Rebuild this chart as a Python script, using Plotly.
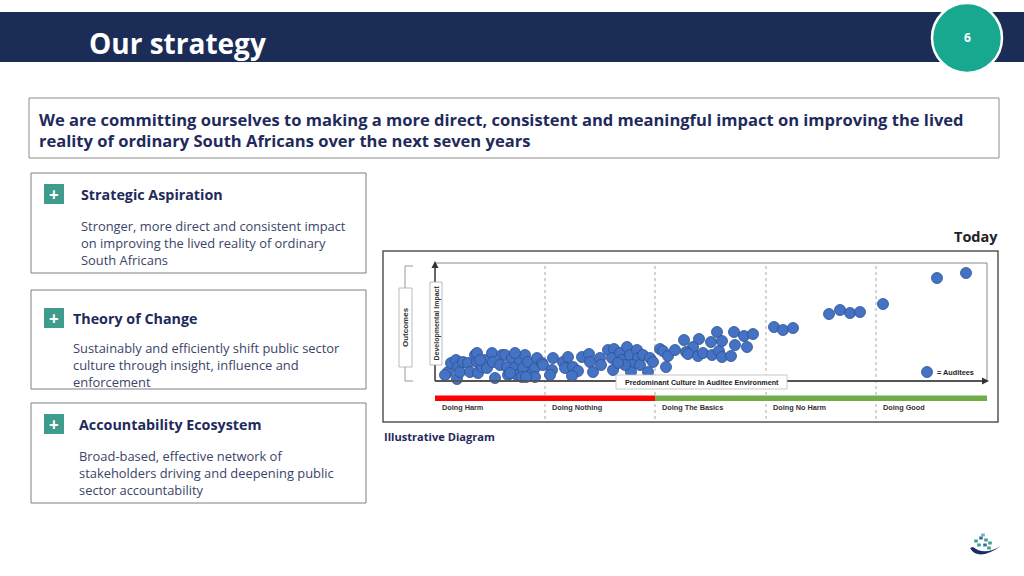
import plotly.graph_objects as go

# ---------------- data ----------------
# culture score (0-552 along the culture axis) and developmental impact (0-118)
culture_score = [
    13, 16, 21, 23, 22, 25, 28, 33, 35, 40, 42, 43, 47, 50, 52, 57, 58, 60, 67, 70,
    65, 72, 73, 77, 80, 82, 85, 88, 90, 93, 97, 100, 102, 107, 80, 75, 87, 100, 10, 42,
    45, 108, 91,
    118, 117, 115, 128, 133, 130, 138, 143, 137, 147, 154, 155, 158, 165, 166, 173, 179, 177, 178, 185,
    187, 192, 195, 202, 203, 197, 205, 196, 208, 213, 215, 190, 183, 218,
    225, 228, 233, 231, 240, 249, 264, 258, 251, 253, 263, 268, 276, 277, 282, 284, 287, 287, 296, 299,
    300, 309, 312, 318,
    339, 348, 358, 394, 405, 415, 425, 448, 502, 531,
]
impact_score = [
    9, 18, 21, 14, 2, 9, 19, 18, 9, 26, 19, 8, 14, 21, 13, 28, 19, 3, 26, 26,
    16, 14, 6, 23, 13, 6, 21, 13, 26, 19, 8, 13, 23, 18, 28, 8, 4, 4, 6, 28,
    21, 16, 4,
    23, 11, 6, 19, 24, 13, 14, 10, 5, 24, 27, 19, 9, 23, 16, 31, 32, 23, 11, 28,
    21, 34, 26, 31, 23, 16, 16, 9, 26, 9, 23, 16, 18, 19,
    32, 30, 25, 14, 31, 41, 42, 34, 29, 27, 25, 28, 39, 26, 49, 30, 40, 24, 25, 49,
    36, 45, 34, 47,
    54, 51, 53, 67, 71, 68, 69, 77, 103, 108,
]
section_labels = ["Doing Harm", "Doing Nothing", "Doing The Basics", "Doing No Harm", "Doing Good"]
section_bounds = [0, 110, 220, 331, 441, 552]
section_colors = ["#FF0000", "#FF0000", "#70AD47", "#70AD47", "#70AD47"]

W, H = 1024, 576
NAVY = "#1B2C56"
TEXT_NAVY = "#1F2A5C"
BODY = "#3B4469"
TEAL = "#3F9C8C"
FONT = "Open Sans"
ARIAL = "Liberation Sans"


def X(px):
    return px / W


def Y(py):
    return 1 - py / H


shapes = []
annotations = []


def rect(x0, y0, x1, y1, fill=None, line=None, lw=1, layer="above"):
    shapes.append(dict(type="rect", xref="paper", yref="paper",
                       x0=X(x0), x1=X(x1), y0=Y(y1), y1=Y(y0),
                       fillcolor=fill or "rgba(0,0,0,0)",
                       line=dict(color=line or "rgba(0,0,0,0)", width=lw if line else 0),
                       layer=layer))


def seg(x0, y0, x1, y1, color, w=1, dash="solid", layer="above"):
    shapes.append(dict(type="line", xref="paper", yref="paper",
                       x0=X(x0), x1=X(x1), y0=Y(y0), y1=Y(y1),
                       line=dict(color=color, width=w, dash=dash), layer=layer))


def poly(pts, fill, layer="above"):
    d = "M " + " L ".join(f"{X(a):.5f} {Y(b):.5f}" for a, b in pts) + " Z"
    shapes.append(dict(type="path", xref="paper", yref="paper", path=d,
                       fillcolor=fill, line=dict(width=0), layer=layer))


def text(x, y, s, size, color, bold=False, family=FONT, xanchor="left", angle=0, align="left"):
    annotations.append(dict(xref="paper", yref="paper", x=X(x), y=Y(y),
                            text=f"<b>{s}</b>" if bold else s, showarrow=False,
                            xanchor=xanchor, yanchor="middle", textangle=angle, align=align,
                            font=dict(family=family, size=size, color=color),
                            borderpad=0))


# ---------------- header ----------------
rect(0, 12, 1024, 62, fill=NAVY)
text(88, 43, "Our strategy", 28, "white", bold=True)
shapes.append(dict(type="circle", xref="paper", yref="paper",
                   x0=X(932), x1=X(1002), y0=Y(73), y1=Y(3),
                   fillcolor="#17A88F", line=dict(color="white", width=2.5), layer="above"))
text(967, 38, "6", 12, "white", bold=True, xanchor="center")

# ---------------- statement box ----------------
rect(29, 98, 999, 158, line="#8C8C8C", lw=1)
text(38, 119, "We are committing ourselves to making a more direct, consistent and meaningful impact on improving the lived",
     16.55, TEXT_NAVY, bold=True)
text(38, 140, "reality of ordinary South Africans over the next seven years", 16.55, TEXT_NAVY, bold=True)

# ---------------- left boxes ----------------
boxes = [
    (173, 273, 80, "Strategic Aspiration",
     ["Stronger, more direct and consistent impact", "on improving the lived reality of ordinary", "South Africans"]),
    (290, 389, 72, "Theory of Change",
     ["Sustainably and efficiently shift public sector", "culture through insight, influence and", "enforcement"]),
    (403, 503, 78, "Accountability Ecosystem",
     ["Broad-based, effective network of", "stakeholders driving and deepening public", "sector accountability"]),
]
BODY_SIZE = 12.9
for top, bot, tx, title, lines in boxes:
    rect(31, top, 366, bot, line="#7F7F7F", lw=1)
    py = top + 21 if top != 290 else top + 28
    rect(44, py - 10, 64, py + 10, fill=TEAL)
    text(54, py, "+", 17, "white", bold=True, xanchor="center")
    text(tx, py, title, 14.3, TEXT_NAVY, bold=True)
    by = (py + 33 if top != 290 else py + 31) - 1
    text(tx, by + 1.3 * BODY_SIZE, "<br>".join(lines), BODY_SIZE, BODY)

text(999, 237, "Today", 14.5, "#222222", bold=True, xanchor="right")
text(383, 436, "Illustrative Diagram", 11.1, TEXT_NAVY, bold=True)

# ---------------- diagram frame ----------------
rect(383, 251, 998, 422, line="#555555", lw=1.5, layer="below")
seg(435, 263, 987, 263, "#8A8A8A", 1, layer="below")
seg(987, 263, 987, 381, "#8A8A8A", 1, layer="below")

# dashed section dividers, bars and section labels (culture axis coordinates)
for b in section_bounds[1:-1]:
    shapes.append(dict(type="line", xref="x", yref="paper", x0=b, x1=b,
                       y0=Y(419), y1=Y(263), line=dict(color="#AAAAAA", width=1, dash="dot"),
                       layer="below"))
for i, lab in enumerate(section_labels):
    shapes.append(dict(type="rect", xref="x", yref="paper",
                       x0=section_bounds[i], x1=section_bounds[i + 1],
                       y0=Y(401), y1=Y(395.5), fillcolor=section_colors[i],
                       line=dict(width=0), layer="above"))
    annotations.append(dict(xref="x", yref="paper", x=section_bounds[i] + 6,
                            y=Y(407.5), text=f"<b>{lab}</b>", showarrow=False,
                            xanchor="left", yanchor="middle",
                            font=dict(family=ARIAL, size=7.3, color="#333333"), borderpad=0))

# axes with arrows
seg(435, 381, 984, 381, "#555555", 1.8)
seg(435, 381, 435, 266, "#555555", 1.8)
poly([(431.5, 268), (438.5, 268), (435, 261)], "#333333")
poly([(982, 377.5), (982, 384.5), (989, 381)], "#333333")

# outcomes bracket
seg(405, 266, 405, 381, "#999999", 1)
seg(405, 266, 413, 266, "#999999", 1)
seg(405, 381, 413, 381, "#999999", 1)
rect(399, 288, 412, 367, fill="white", line="#AAAAAA", lw=0.8)
text(405.5, 327.5, "Outcomes", 8, "#333333", bold=True, family=ARIAL, xanchor="center", angle=-90)
rect(430, 282, 442, 365, fill="white", line="#AAAAAA", lw=0.8)
text(436, 323.5, "Developmental Impact", 7, "#333333", bold=True, family=ARIAL, xanchor="center", angle=-90)

# predominant culture label
rect(616, 375, 787, 389, fill="white", line="#BBBBBB", lw=0.8)
text(701.5, 382, "Predominant Culture In Auditee Environment", 7.2, "#222222", bold=True, family=ARIAL,
     xanchor="center")

# legend
shapes.append(dict(type="circle", xref="paper", yref="paper",
                   x0=X(921.5), x1=X(932.5), y0=Y(377.5), y1=Y(366.5),
                   fillcolor="#4472C4", line=dict(color="#2F528F", width=0.8), layer="above"))
text(936, 372, "= Auditees", 7.3, "#222222", bold=True, family=ARIAL)

# ---------------- logo ----------------
shapes.append(dict(type="path", xref="paper", yref="paper",
                   path=(f"M {X(970):.5f} {Y(548):.5f} Q {X(978):.5f} {Y(562):.5f} {X(1001):.5f} {Y(546):.5f} "
                         f"Q {X(984):.5f} {Y(556):.5f} {X(973):.5f} {Y(547):.5f} Z"),
                   fillcolor="#1B2C6B", line=dict(width=0), layer="above"))
for (a, b, c) in [(976, 541, "#3FA08A"), (981, 538, "#2F6FB0"), (986, 540, "#3FA08A"),
                  (979, 545, "#3FA08A"), (985, 545, "#2F6FB0"), (990, 543, "#3FA08A"),
                  (989, 548, "#3FA08A"), (983, 535, "#7FA8C8")]:
    rect(a - 1.8, b - 1.5, a + 1.8, b + 1.5, fill=c)

# ---------------- figure ----------------
fig = go.Figure()
fig.add_trace(go.Scatter(
    x=culture_score, y=impact_score, mode="markers",
    marker=dict(size=11, color="#4472C4", line=dict(color="#2F528F", width=0.8)),
    cliponaxis=False, hoverinfo="skip", showlegend=False))

fig.update_layout(
    width=W, height=H, margin=dict(l=0, r=0, t=0, b=0, pad=0),
    paper_bgcolor="white", plot_bgcolor="rgba(0,0,0,0)",
    xaxis=dict(domain=[X(435), X(987)], range=[0, 552], visible=False, fixedrange=True),
    yaxis=dict(domain=[Y(381), Y(263)], range=[0, 118], visible=False, fixedrange=True),
    shapes=shapes, annotations=annotations, showlegend=False,
)

fig.write_html("out.html", config={"displayModeBar": False},
               post_script="document.body.style.margin='0';document.body.style.overflow='hidden';")
